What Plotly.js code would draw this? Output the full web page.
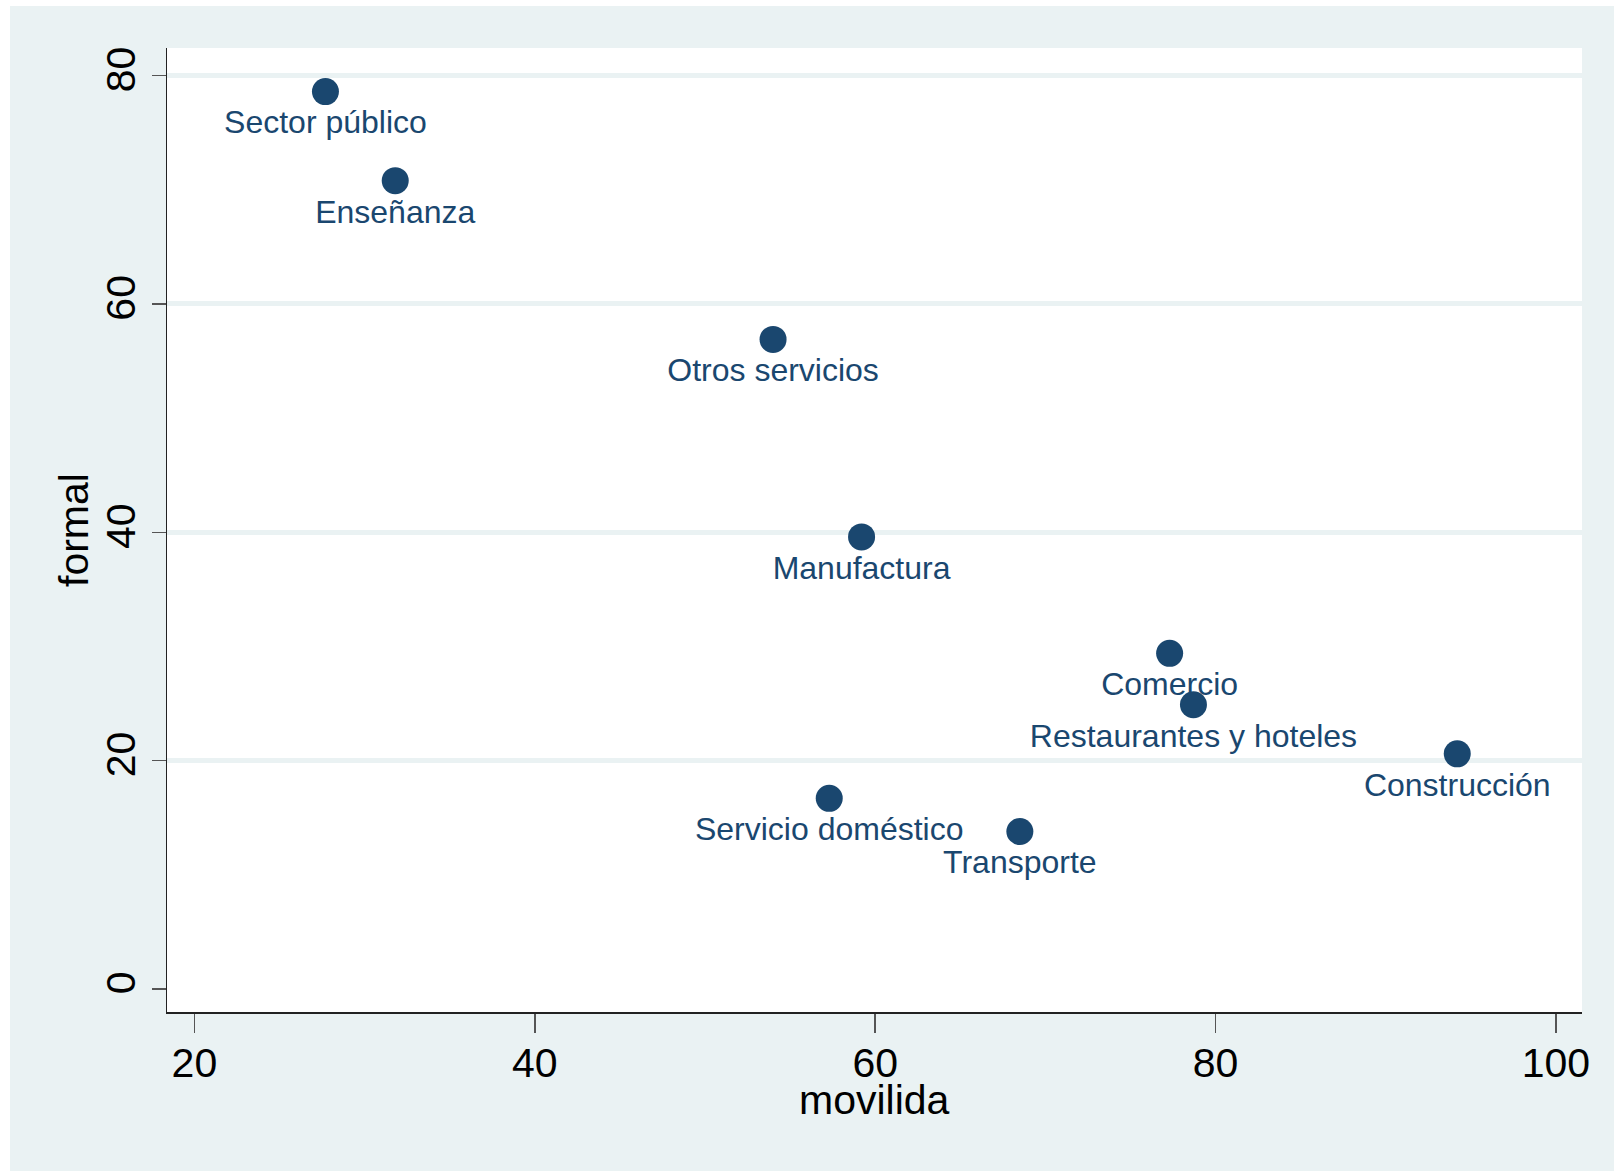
<!DOCTYPE html>
<html>
<head>
<meta charset="utf-8">
<script src="https://cdn.plot.ly/plotly-3.0.1.min.js"></script>
<style>
  html, body { margin: 0; padding: 0; background: #ffffff; width: 1614px; height: 1173px; overflow: hidden; }
  #chart { position: absolute; left: 10px; top: 6px; width: 1604px; height: 1165px; }
</style>
</head>
<body>
<div id="chart"></div>
<script>
// Data
const sectors = ["Sector público", "Enseñanza", "Otros servicios", "Manufactura", "Comercio",
                 "Restaurantes y hoteles", "Construcción", "Servicio doméstico", "Transporte"];
const movilida = [27.7, 31.8, 54.0, 59.2, 77.3, 78.7, 94.2, 57.3, 68.5];
const formal   = [78.6, 70.8, 56.9, 39.6, 29.4, 24.9, 20.6, 16.7, 13.8];

const xTicks = [20, 40, 60, 80, 100];
const yTicks = [0, 20, 40, 60, 80];
const xTitle = "movilida";
const yTitle = "formal";

const navy = "#1A476F";
const bluishGray = "#EAF2F3";

const trace = {
  type: "scatter",
  mode: "markers+text",
  x: movilida,
  y: formal,
  text: sectors,
  textposition: "bottom center",
  cliponaxis: false,
  marker: { color: navy, size: 27, line: { width: 0 } },
  textfont: { family: "Liberation Sans, Arial, sans-serif", size: 32, color: navy },
  hoverinfo: "x+y+text"
};

const layout = {
  width: 1604,
  height: 1165,
  margin: { l: 157, r: 32, t: 42, b: 159, pad: 0 },
  paper_bgcolor: bluishGray,
  plot_bgcolor: "#ffffff",
  showlegend: false,
  font: { family: "Liberation Sans, Arial, sans-serif", color: "#000000" },
  xaxis: {
    range: [18.39, 101.53],
    tickmode: "array",
    tickvals: xTicks,
    ticktext: xTicks.map(String),
    ticks: "outside",
    ticklen: 19,
    tickwidth: 1.5,
    tickcolor: "#555555",
    ticklabelstandoff: -5,
    tickfont: { size: 41, color: "#000000" },
    showline: true,
    linecolor: "#222222",
    linewidth: 1.5,
    showgrid: false,
    zeroline: false,
    automargin: false
  },
  yaxis: {
    range: [-2.01, 82.42],
    tickmode: "array",
    tickvals: yTicks,
    ticktext: yTicks.map(String),
    tickangle: -90,
    ticks: "outside",
    ticklen: 14,
    tickwidth: 1.5,
    tickcolor: "#555555",
    ticklabelstandoff: 0,
    tickfont: { size: 41, color: "#000000" },
    showline: true,
    linecolor: "#222222",
    linewidth: 1.5,
    showgrid: true,
    gridcolor: bluishGray,
    gridwidth: 5,
    zeroline: true,
    zerolinecolor: "rgba(0,0,0,0)",
    zerolinewidth: 1,
    automargin: false
  },
  annotations: [
    { text: xTitle, xref: "paper", yref: "paper", x: 0.5, y: 0, xanchor: "center", yanchor: "middle",
      yshift: -88, showarrow: false, font: { size: 41, color: "#000000" } },
    { text: yTitle, xref: "paper", yref: "paper", x: 0, y: 0.5, xanchor: "center", yanchor: "middle",
      xshift: -93, textangle: -90, showarrow: false, font: { size: 41, color: "#000000" } }
  ]
};

Plotly.newPlot("chart", [trace], layout, { displayModeBar: false, staticPlot: true });
</script>
</body>
</html>
